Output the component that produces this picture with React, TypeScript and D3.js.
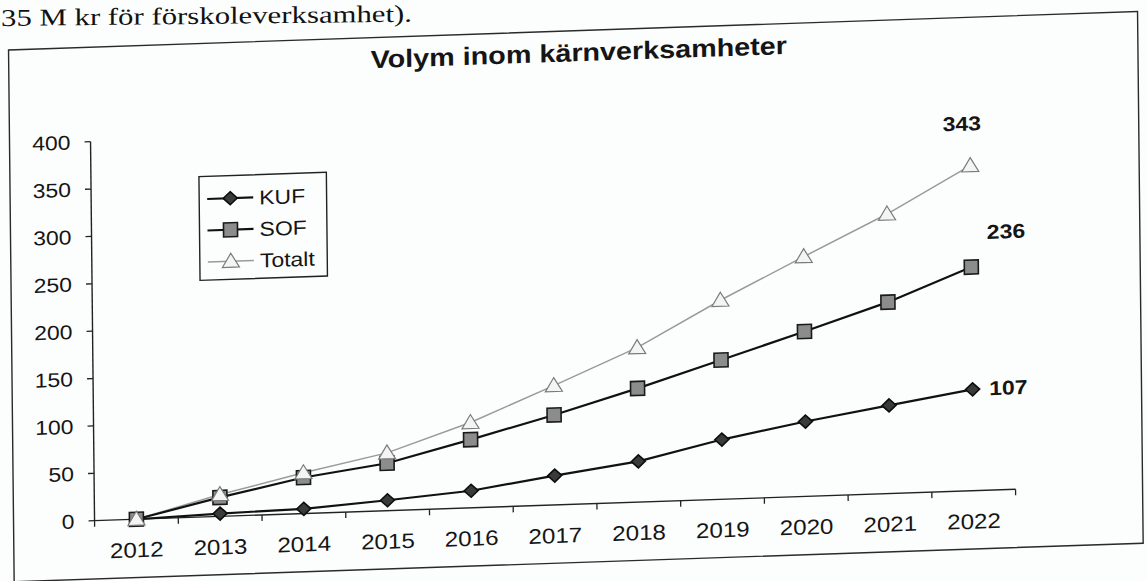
import React from 'react';
import * as d3 from 'd3';

const years = ['2012', '2013', '2014', '2015', '2016', '2017', '2018', '2019', '2020', '2021', '2022'];
const kuf = [0, 3, 5, 11, 18, 31, 43, 63, 79, 93, 107];
const sof = [0, 20, 38, 50, 72, 95, 120, 147, 174, 202, 236];
const totalt = [0, 23, 43, 61, 90, 126, 163, 210, 253, 295, 343];
const yTicks = [0, 50, 100, 150, 200, 250, 300, 350, 400];
const seriesNames = ['KUF', 'SOF', 'Totalt'];
const endLabels = ['107', '236', '343'];
const title = 'Volym inom kärnverksamheter';
const docText = '35 M kr för förskoleverksamhet).';

const W = 1147;
const H = 581;
const SX = 1.15;
const FONT = "'Liberation Sans', Arial, sans-serif";

const x = d3.scaleBand<string>().domain(years).range([89, 1010]).paddingInner(0).paddingOuter(0);
const cx = (yr: string) => (x(yr) as number) + x.bandwidth() / 2;
const y = d3.scaleLinear().domain([0, 400]).range([523.7, 144.7]);

type TP = { x: number; y: number; children: React.ReactNode; anchor?: string; size?: number; weight?: string | number; dy?: string | number; fill?: string; sx?: number };
const Txt = ({ x: tx, y: ty, children, anchor = 'start', size = 20, weight = 'normal', dy = 0, fill = '#151515', sx = SX }: TP) => (
  <text
    transform={`translate(${tx},${ty}) scale(${sx},1)`}
    textAnchor={anchor as any}
    fontSize={size}
    fontWeight={weight as any}
    fontFamily={FONT}
    dy={dy}
    fill={fill}
  >
    {children}
  </text>
);

const Diamond = ({ px, py }: { px: number; py: number }) => (
  <path d={`M${px},${py - 6.5} L${px + 7},${py} L${px},${py + 6.5} L${px - 7},${py} Z`} fill="#3a3a3a" stroke="#0d0d0d" strokeWidth={1.6} />
);
const Square = ({ px, py }: { px: number; py: number }) => (
  <rect x={px - 7} y={py - 7} width={14} height={14} fill="#8c8c8c" stroke="#1a1a1a" strokeWidth={1.6} />
);
const Triangle = ({ px, py }: { px: number; py: number }) => (
  <path d={`M${px},${py - 8} L${px + 8.5},${py + 6} L${px - 8.5},${py + 6} Z`} fill="#f4f4f4" stroke="#7a7a7a" strokeWidth={1.2} />
);

export default function App() {
  const line = d3
    .line<number>()
    .x((_, i) => cx(years[i]))
    .y((d) => y(d));

  const x0 = x.range()[0];
  const x1 = x.range()[1];
  const y0 = y(0);
  const boundaries = [...years.map((yr) => x(yr) as number), x1];

  const legendRows = [
    { name: seriesNames[0], yy: 206, M: Diamond, stroke: '#111', sw: 2.2 },
    { name: seriesNames[1], yy: 237.5, M: Square, stroke: '#111', sw: 2.2 },
    { name: seriesNames[2], yy: 269, M: Triangle, stroke: '#9a9a9a', sw: 1.5 },
  ];

  const last = years.length - 1;
  const lx = cx(years[last]);

  return (
    <svg width={W} height={H} style={{ position: 'absolute', left: 0, top: 0, background: '#fcfdfd' }}>
      <rect x={0} y={0} width={W} height={H} fill="#fcfdfd" />
      <g transform="matrix(1,-0.0105,0,1,0,0)">
        <text x={1} y={26} fontFamily="'Liberation Serif', 'Times New Roman', serif" fontSize={24} textLength={411} lengthAdjust="spacingAndGlyphs" fill="#111">
          {docText}
        </text>
      </g>
      <g transform="matrix(1,-0.0341,0.0106,1,0,0)">
        {/* chart frame */}
        <rect x={8} y={50.3} width={1129} height={531.7} fill="none" stroke="#2a2a2a" strokeWidth={1.4} />
        {/* title */}
        <Txt x={578} y={80.8} size={25} weight="bold" anchor="middle">{title}</Txt>

        {/* y axis */}
        <line x1={x0} x2={x0} y1={y(400)} y2={y0} stroke="#222" strokeWidth={1.4} />
        {yTicks.map((t) => (
          <g key={t}>
            <line x1={x0 - 6} x2={x0} y1={y(t)} y2={y(t)} stroke="#222" strokeWidth={1.3} />
            <Txt x={x0 - 20} y={y(t)} anchor="end" dy="0.36em">{t}</Txt>
          </g>
        ))}

        {/* x axis */}
        <line x1={x0} x2={x1} y1={y0} y2={y0} stroke="#222" strokeWidth={1.4} />
        {boundaries.map((b, i) => (
          <line key={i} x1={b} x2={b} y1={y0} y2={y0 + 6} stroke="#222" strokeWidth={1.3} />
        ))}
        {years.map((yr) => (
          <Txt key={yr} x={cx(yr)} y={y0 + 38} anchor="middle" size={21}>{yr}</Txt>
        ))}

        {/* lines */}
        <path d={line(totalt) || ''} fill="none" stroke="#9a9a9a" strokeWidth={1.5} />
        <path d={line(sof) || ''} fill="none" stroke="#111" strokeWidth={2.2} />
        <path d={line(kuf) || ''} fill="none" stroke="#111" strokeWidth={2.2} />

        {/* markers */}
        {kuf.map((v, i) => <Diamond key={'k' + i} px={cx(years[i])} py={y(v)} />)}
        {sof.map((v, i) => <Square key={'s' + i} px={cx(years[i])} py={y(v)} />)}
        {totalt.map((v, i) => <Triangle key={'t' + i} px={cx(years[i])} py={y(v)} />)}

        {/* end labels */}
        <Txt x={lx + 16.5} y={y(kuf[last]) + 6.5} size={20} weight="bold">{endLabels[0]}</Txt>
        <Txt x={lx + 35} y={y(sof[last]) - 27.6} anchor="middle" size={20} weight="bold">{endLabels[1]}</Txt>
        <Txt x={lx - 8} y={y(totalt[last]) - 35.3} anchor="middle" size={20} weight="bold">{endLabels[2]}</Txt>

        {/* legend */}
        <rect x={197} y={183.4} width={127.4} height={103.7} fill="#fcfdfd" stroke="#222" strokeWidth={1.4} />
        {legendRows.map((r) => (
          <g key={r.name}>
            <line x1={205} x2={251} y1={r.yy} y2={r.yy} stroke={r.stroke} strokeWidth={r.sw} />
            <r.M px={228} py={r.yy} />
            <Txt x={257} y={r.yy} dy="0.36em" size={20}>{r.name}</Txt>
          </g>
        ))}
      </g>
    </svg>
  );
}
